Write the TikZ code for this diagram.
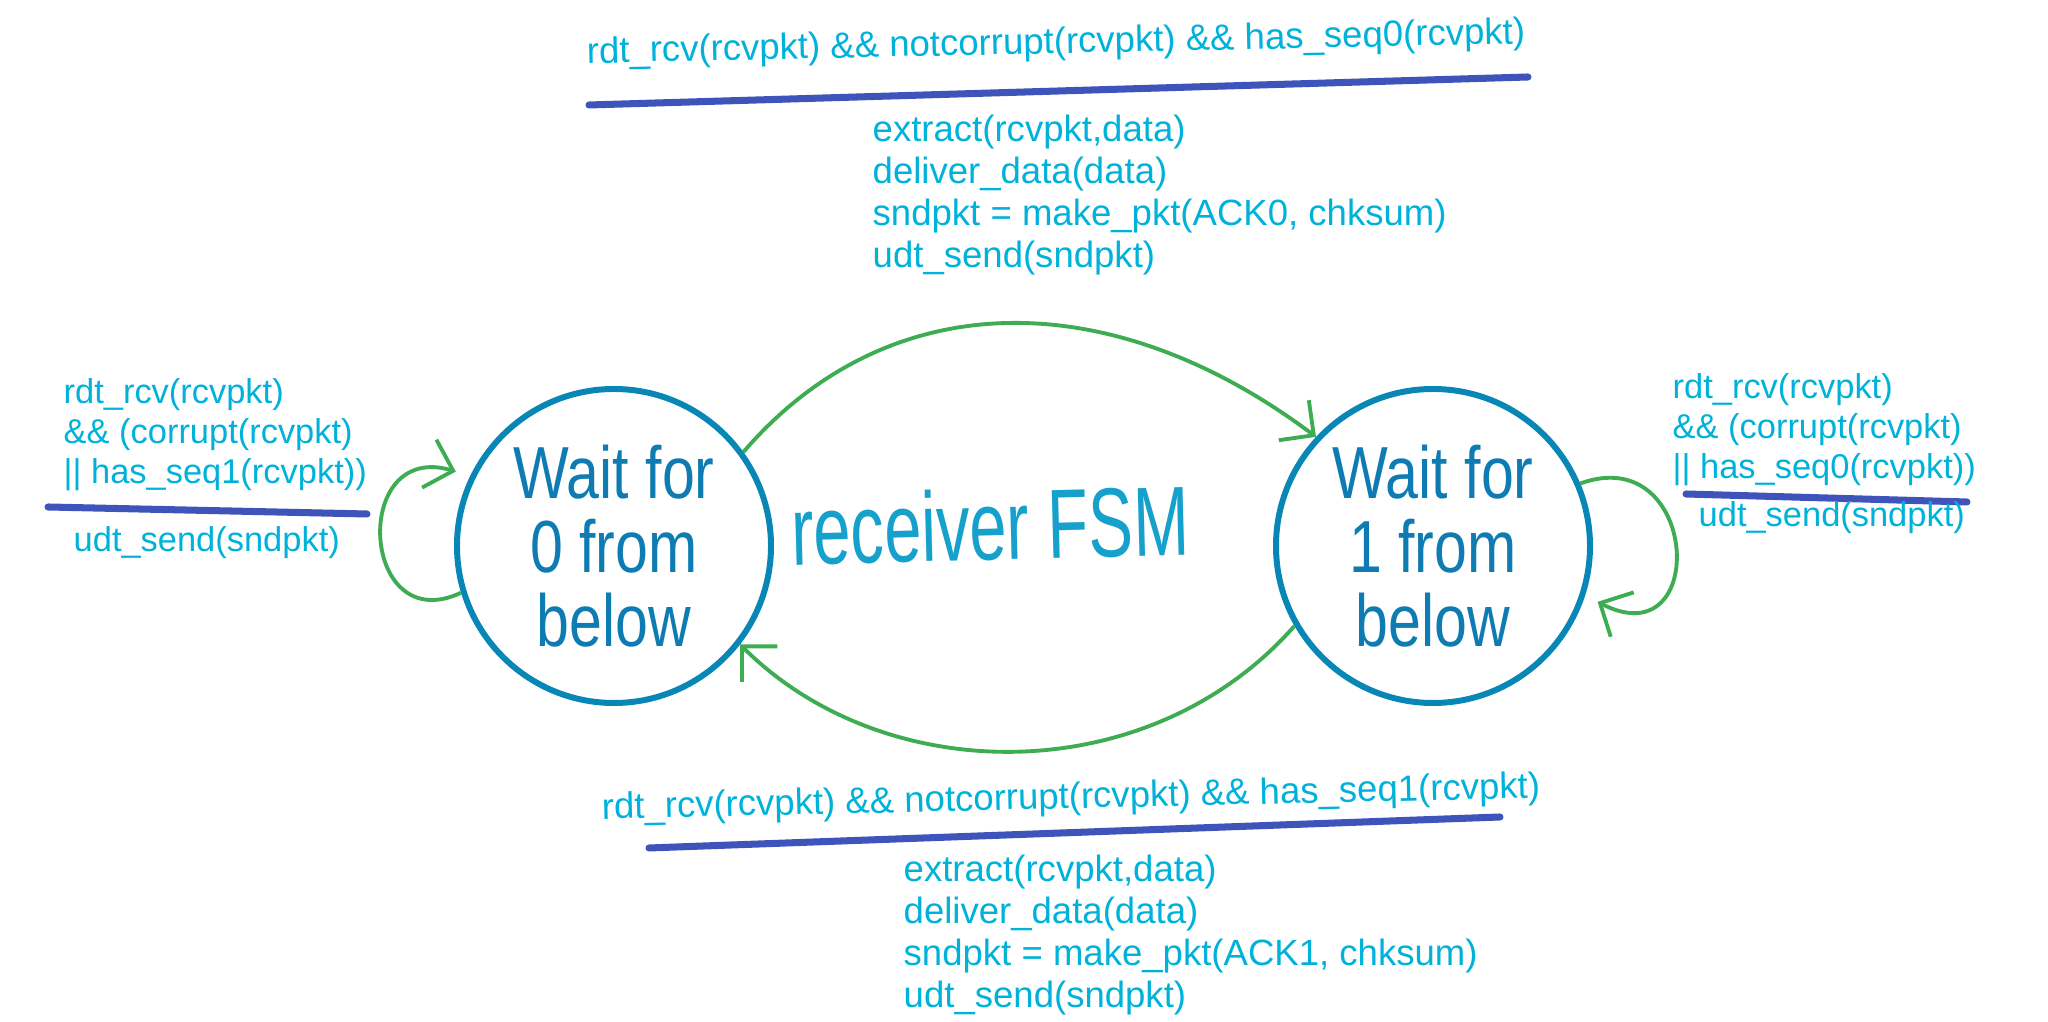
\documentclass[tikz,border=0pt]{standalone}
\usepackage{fontspec}
\setmainfont{Liberation Sans}
\newfontfamily\handfont[FakeStretch=0.8]{Liberation Sans}
\newfontfamily\titlefont[FakeStretch=0.68]{Liberation Sans}
\usepackage{tikz}
\usetikzlibrary{arrows.meta}

\definecolor{txtcyan}{RGB}{0,178,218}
\definecolor{ringblue}{RGB}{8,134,182}
\definecolor{handblue}{RGB}{14,124,178}
\definecolor{fsmcyan}{RGB}{22,160,204}
\definecolor{barblue}{RGB}{63,84,186}
\definecolor{arcgreen}{RGB}{62,172,82}

\begin{document}
\begin{tikzpicture}[
  state/.style={circle, draw=ringblue, line width=1.7pt, minimum size=3.14cm, inner sep=0pt,
    text=handblue, align=center, font=\handfont\fontsize{21}{21}\selectfont},
  guard/.style={text=txtcyan, font=\fontsize{10.4}{11.9}\selectfont, align=left, inner sep=0pt},
  side/.style={text=txtcyan, font=\fontsize{9.8}{11.4}\selectfont, align=left, inner sep=0pt},
  bar/.style={draw=barblue, line width=2pt, line cap=round},
  trans/.style={draw=arcgreen, line width=1.1pt, -{Straight Barb[length=2.5mm,width=5mm]}}
]
  \useasboundingbox (0,0) rectangle (20.48,10.22);

  % states
  \node [state] (s0) at (6.14, 4.76) {Wait for\\0 from\\below};
  \node [state] (s1) at (14.33, 4.76) {Wait for\\1 from\\below};
  \node [text=fsmcyan, font=\titlefont\fontsize{28}{28}\selectfont, anchor=base, rotate=1.5] (fsm) at (9.91, 4.62) {receiver FSM};

  % 0 -> 1
  \node [guard, rotate=1.2] (g01) at (10.56, 9.78) {rdt\_rcv(rcvpkt) \&\& notcorrupt(rcvpkt) \&\& has\_seq0(rcvpkt)};
  \draw [bar] (5.89, 9.17) -- (15.28, 9.45);
  \node [guard, anchor=west] (a01) at (8.72, 8.27) {extract(rcvpkt,data)\\deliver\_data(data)\\sndpkt = make\_pkt(ACK0, chksum)\\udt\_send(sndpkt)};
  \draw [trans] (s0.36) .. controls (8.89, 7.39) and (11.11, 7.39) .. (s1.137);

  % 1 -> 0
  \node [guard, rotate=1.3] (g10) at (10.71, 2.23) {rdt\_rcv(rcvpkt) \&\& notcorrupt(rcvpkt) \&\& has\_seq1(rcvpkt)};
  \draw [bar] (6.49, 1.74) -- (15.00, 2.05);
  \node [guard, anchor=west] (a10) at (9.03, 0.87) {extract(rcvpkt,data)\\deliver\_data(data)\\sndpkt = make\_pkt(ACK1, chksum)\\udt\_send(sndpkt)};
  \draw [trans] (s1.210) .. controls (11.50, 2.32) and (8.86, 2.32) .. (s0.322);

  % self loops
  \node [side, anchor=west] (g00) at (0.63, 5.87) {rdt\_rcv(rcvpkt)\\\&\& (corrupt(rcvpkt)\\|| has\_seq1(rcvpkt))};
  \draw [bar] (0.48, 5.15) -- (3.67, 5.08);
  \node [side, anchor=west] (a00) at (0.73, 4.79) {udt\_send(sndpkt)};
  \draw [trans, shorten >=1.5mm] (s0.197) .. controls (3.60, 3.82) and (3.50, 5.82) .. (s0.154);

  \node [side, anchor=west] (g11) at (16.72, 5.92) {rdt\_rcv(rcvpkt)\\\&\& (corrupt(rcvpkt)\\|| has\_seq0(rcvpkt))};
  \draw [bar] (16.86, 5.28) -- (19.67, 5.20);
  \node [side, anchor=west] (a11) at (16.98, 5.04) {udt\_send(sndpkt)};
  \draw [trans, shorten >=1.4mm] (s1.23) .. controls (17.00, 5.82) and (17.10, 3.62) .. (s1.342);
\end{tikzpicture}
\end{document}
